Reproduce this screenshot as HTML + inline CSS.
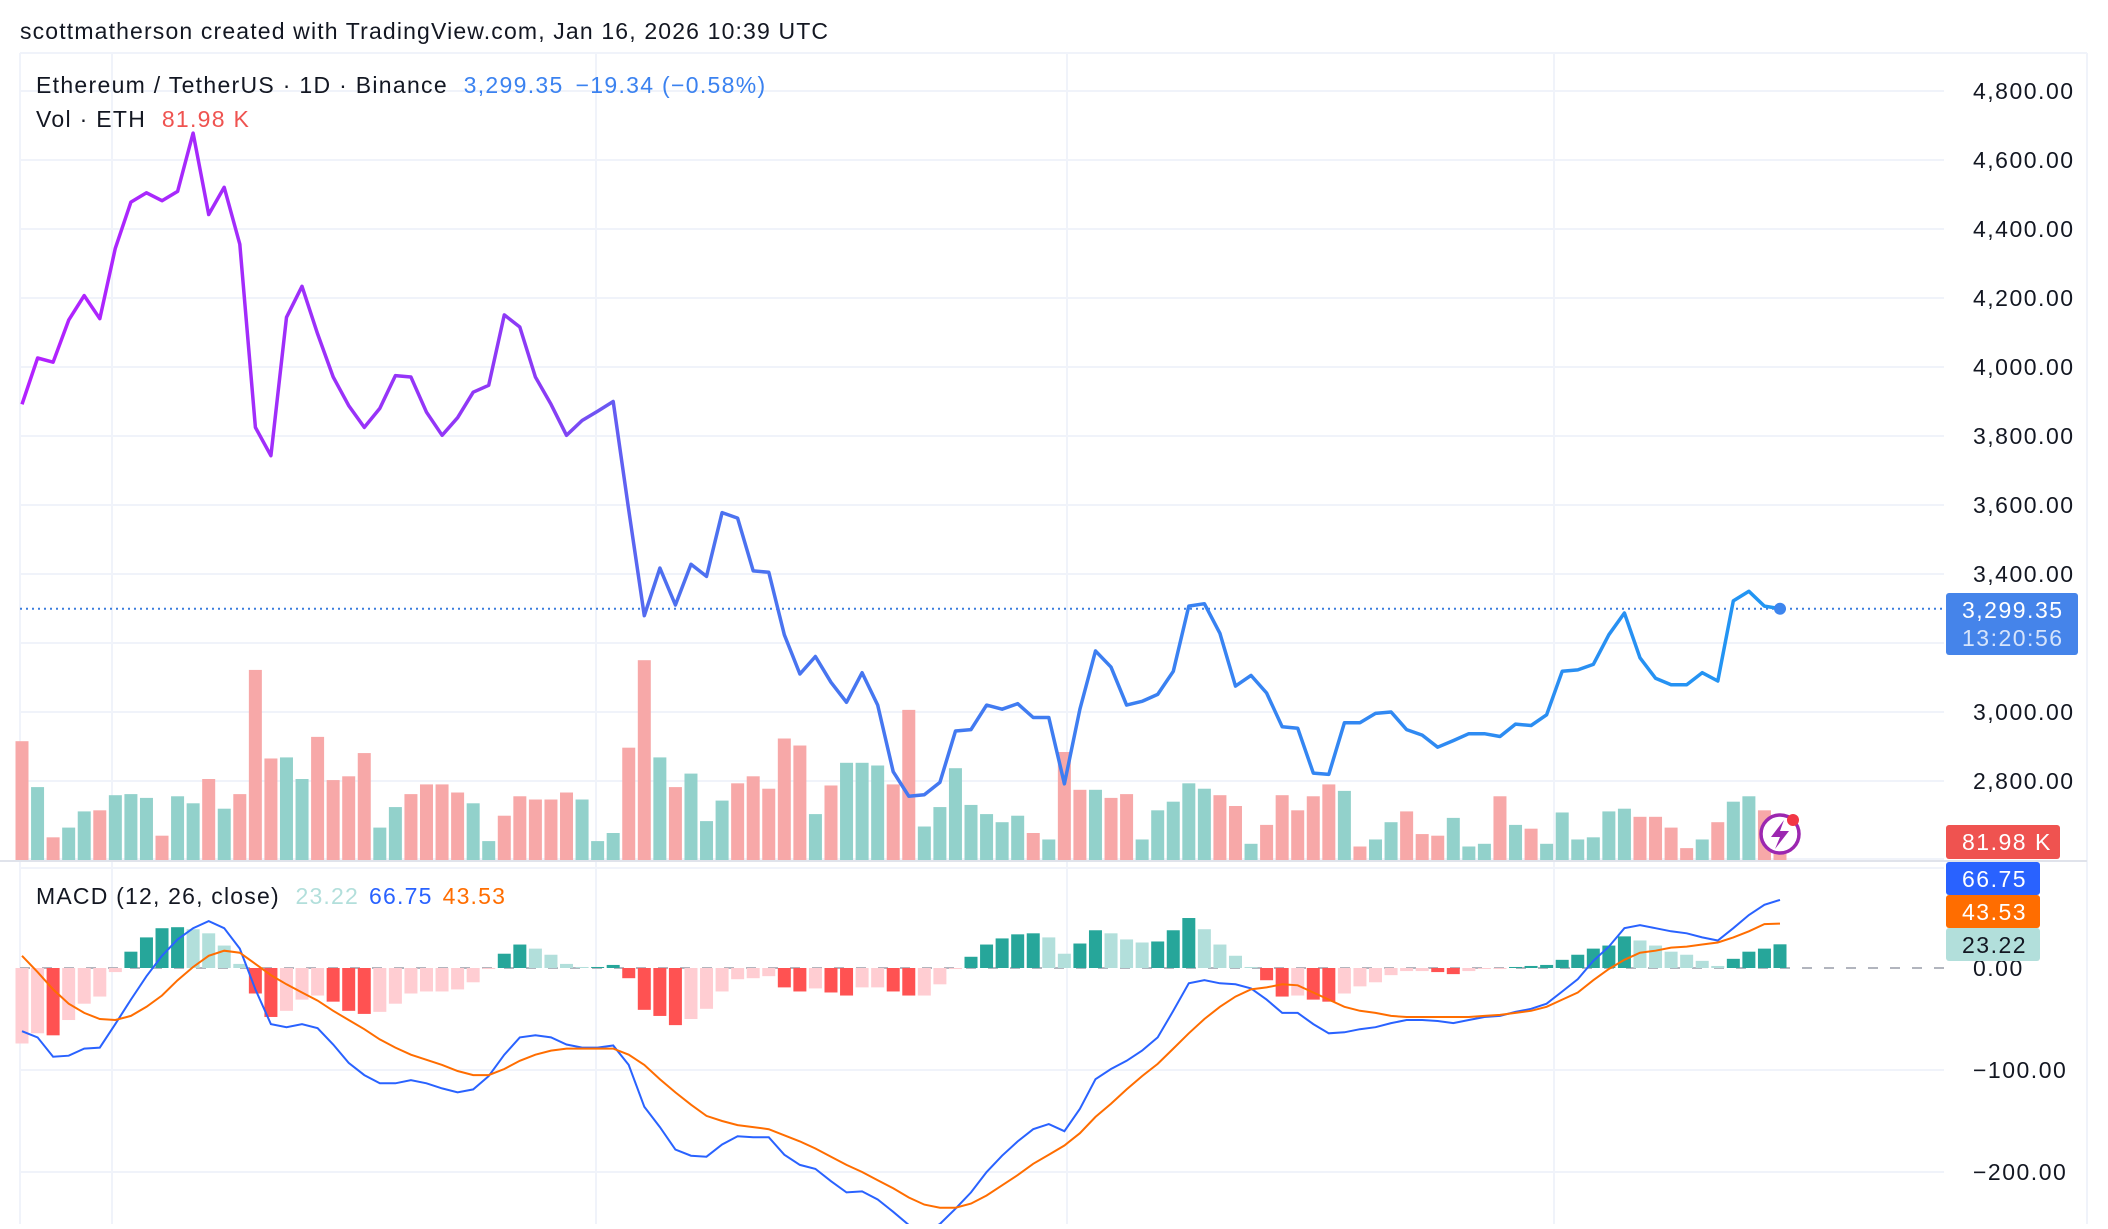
<!DOCTYPE html>
<html><head><meta charset="utf-8"><style>
body{margin:0;background:#fff;width:2108px;height:1224px;overflow:hidden;font-family:"Liberation Sans",sans-serif;}
svg text{font-family:"Liberation Sans",sans-serif;}
</style></head><body>
<svg id="c" width="2108" height="1224" xmlns="http://www.w3.org/2000/svg">
<defs>
<linearGradient id="pg" gradientUnits="userSpaceOnUse" x1="20" y1="0" x2="1780" y2="0">
<stop offset="0" stop-color="#b321ff"/><stop offset="0.3" stop-color="#8a3cf5"/><stop offset="0.36" stop-color="#4f6ff0"/><stop offset="1" stop-color="#2196f3"/>
</linearGradient>
</defs>
<text x="20" y="39" font-size="23" letter-spacing="1.15" fill="#131722">scottmatherson created with TradingView.com, Jan 16, 2026 10:39 UTC</text>
<g id="grid"></g>
<g id="vol"></g>
<g id="hist"></g>
<g id="lines"></g>
<g id="axis"></g>
<text x="36" y="93" font-size="23" letter-spacing="1.3" fill="#131722">Ethereum / TetherUS · 1D · Binance <tspan fill="#3b82f0" dx="8">3,299.35</tspan><tspan fill="#3b82f0" dx="12">−19.34 (−0.58%)</tspan></text>
<text x="36" y="127" font-size="23" letter-spacing="1.3" fill="#131722">Vol · ETH <tspan fill="#ef5350" dx="8">81.98 K</tspan></text>
<text x="36" y="904" font-size="23" letter-spacing="1.2" fill="#131722">MACD (12, 26, close) <tspan fill="#b2dfdb" dx="8">23.22</tspan><tspan fill="#2962ff" dx="10">66.75</tspan><tspan fill="#ff6d00" dx="10">43.53</tspan></text>
</svg>
<script>
const closes=[3892,4026,4014,4136,4207,4140,4344,4478,4505,4482,
4509,4678,4442,4521,4356,3825,3743,4144,4234,4096,
3971,3888,3825,3880,3975,3971,3869,3802,3853,3927,
3947,4151,4116,3971,3892,3802,3845,3872,3900,3586,
3279,3417,3310,3428,3393,3578,3562,3409,3405,3224,
3110,3161,3086,3028,3114,3020,2827,2756,2760,2796,
2945,2949,3020,3008,3024,2984,2984,2792,3008,3177,
3130,3020,3031,3051,3118,3307,3314,3228,3075,3106,
3055,2957,2953,2823,2819,2969,2969,2996,3000,2949,
2933,2898,2917,2937,2937,2929,2965,2961,2992,3118,
3122,3138,3224,3287,3157,3098,3079,3079,3114,3090,
3322,3350,3307,3299.35];
const volumes=[220,135,42,60,90,92,120,122,115,45,
118,105,150,95,122,352,188,190,150,228,
148,155,198,60,98,122,140,140,125,105,
35,82,118,112,112,125,112,35,50,208,
370,190,135,160,72,110,142,155,132,225,
212,85,138,180,180,175,140,278,62,98,
170,102,85,70,82,50,38,200,130,130,
115,122,38,92,108,142,132,120,100,30,
65,120,92,118,140,128,25,38,70,90,
48,45,78,25,30,118,65,58,30,88,
38,42,90,95,80,80,60,22,38,70,
108,118,92,82];
const volDir="rgrggrgggrggrgrrrggrrrrggrrrrggrrrrrgggrrgrgggrrrrrgrgggrrgggggggrgrrgrrgggggrrgrrrrrgrggrrrgggrgrggggggrrrrgrggrr";
const macd=[-62,-68,-87,-86,-79,-78,-55,-31,-8,12,28,39,46,39,19,-21,-55,-58,-55,-59,-75,-93,-105,-113,-113,-110,-113,-118,-122,-119,-106,-85,-68,-66,-68,-75,-78,-78,-76,-95,-136,-156,-178,-184,-185,-173,-165,-166,-166,-183,-193,-197,-209,-220,-219,-227,-239,-252,-259,-251,-236,-220,-200,-184,-170,-158,-153,-160,-138,-109,-99,-91,-81,-68,-42,-15,-12,-15,-16,-20,-31,-44,-44,-55,-64,-63,-60,-58,-54,-51,-51,-52,-54,-51,-48,-47,-43,-40,-35,-23,-11,7,21,39,42,39,36,34,30,27,39,52,62,66.75];
const signal=[12,-4,-21,-35,-44,-50,-51,-47,-38,-27,-12,1,12,17,15,4,-7,-16,-24,-32,-42,-51,-60,-70,-78,-85,-90,-95,-101,-105,-105,-99,-91,-85,-81,-79,-79,-79,-79,-85,-95,-109,-122,-134,-145,-150,-154,-156,-158,-164,-170,-177,-185,-193,-200,-208,-216,-225,-232,-235,-235,-231,-223,-213,-203,-192,-183,-174,-162,-146,-133,-119,-106,-94,-79,-64,-50,-38,-28,-21,-19,-16,-17,-24,-31,-38,-42,-44,-47,-48,-48,-48,-48,-48,-47,-46,-44,-42,-38,-31,-24,-12,-1,8,15,17,20,21,23,25,30,36,43,43.53];
const priceTicks=[4800,4600,4400,4200,4000,3800,3600,3400,3200,3000,2800];
const macdTicks=[0,-100,-200];

const NS="http://www.w3.org/2000/svg";
const N=closes.length;
const X0=22,X1=1780,PR=1944;
const xOf=i=>X0+i*(X1-X0)/(N-1);
const yP=p=>712-(p-3000)*0.345;
const yV=v=>860-v*0.54;
const yM=v=>968-v*1.02;
function mk(tag,attrs,parent){const e=document.createElementNS(NS,tag);for(const k in attrs)e.setAttribute(k,attrs[k]);parent.appendChild(e);return e;}
const grid=document.getElementById('grid'),vol=document.getElementById('vol'),hist=document.getElementById('hist'),lines=document.getElementById('lines'),axis=document.getElementById('axis');
mk('line',{x1:20,y1:53,x2:2087,y2:53,stroke:'#f0f3fa','stroke-width':2},grid);
mk('line',{x1:20,y1:53,x2:20,y2:1224,stroke:'#f0f3fa','stroke-width':2},grid);
mk('line',{x1:2087,y1:53,x2:2087,y2:1224,stroke:'#f0f3fa','stroke-width':2},grid);
[112,596,1067,1554].forEach(x=>mk('line',{x1:x,y1:53,x2:x,y2:1224,stroke:'#f0f3fa','stroke-width':2},grid));
priceTicks.forEach(t=>{
 const y=yP(t);
 mk('line',{x1:20,y1:y,x2:PR,y2:y,stroke:'#f0f3fa','stroke-width':2},grid);
 if(t!==3200){const tx=mk('text',{x:1973,y:y+8,'font-size':23,'letter-spacing':1.5,fill:'#131722'},axis);tx.textContent=t.toLocaleString('en-US',{minimumFractionDigits:2});
 
 }
});
mk('line',{x1:20,y1:859,x2:PR,y2:859,stroke:'#f0f3fa','stroke-width':2},grid);
mk('line',{x1:0,y1:861,x2:2087,y2:861,stroke:'#e0e3eb','stroke-width':2},grid);
mk('line',{x1:20,y1:868,x2:PR,y2:868,stroke:'#f0f3fa','stroke-width':2},grid);
macdTicks.forEach(t=>{
 const y=yM(t);
 if(t===0) mk('line',{x1:20,y1:y,x2:PR,y2:y,stroke:'#b2b5be','stroke-width':2,'stroke-dasharray':'10 12'},grid);
 else mk('line',{x1:20,y1:y,x2:PR,y2:y,stroke:'#f0f3fa','stroke-width':2},grid);
 const tx=mk('text',{x:1973,y:y+8,'font-size':23,'letter-spacing':1.5,fill:'#131722'},axis);
 tx.textContent=(t<0?'\u2212':'')+Math.abs(t).toFixed(2);
 
 
});
volumes.forEach((v,i)=>{
 const r=mk('rect',{x:xOf(i)-6.5,y:yV(v),width:13,height:860-yV(v),fill:volDir[i]==='g'?'#92d1cb':'#f7a8a8'},vol);
 
 
});
for(let i=0;i<N;i++){
 const h=macd[i]-signal[i],hp=i>0?macd[i-1]-signal[i-1]:h;
 let col;
 if(h>=0) col=h>=hp?'#26a69a':'#b2dfdb'; else col=h<hp?'#ff5252':'#ffcdd2';
 const y0=yM(0),y1=yM(h);
 const r=mk('rect',{x:xOf(i)-6.5,y:Math.min(y0,y1),width:13,height:Math.max(1,Math.abs(y1-y0)),fill:col},hist);
 
 
}
const path=(arr,f)=>arr.map((v,i)=>(i?'L':'M')+xOf(i).toFixed(1)+','+f(v).toFixed(1)).join('');
const ml=mk('path',{d:path(macd,yM),fill:'none',stroke:'#2962ff','stroke-width':2},lines);


const sl=mk('path',{d:path(signal,yM),fill:'none',stroke:'#ff6d00','stroke-width':2},lines);


const last=closes[N-1];
const dl=mk('line',{x1:20,y1:yP(last),x2:PR+10,y2:yP(last),stroke:'#3b7ddd','stroke-width':2,'stroke-dasharray':'2 4'},lines);


const pl=mk('path',{d:path(closes,yP),fill:'none',stroke:'url(#pg)','stroke-width':3.5,'stroke-linejoin':'round'},lines);


const dot=mk('circle',{cx:xOf(N-1),cy:yP(last),r:6,fill:'#3d85ee'},lines);


const ic=mk('g',{},lines);


mk('circle',{cx:1780,cy:834,r:19,fill:'#fff',stroke:'#9c27b0','stroke-width':3.5},ic);
mk('path',{d:'M1784,820 L1771,837 L1780,837 L1775,849 L1789,831 L1780,831 Z',fill:'#9c27b0'},ic);
mk('circle',{cx:1793,cy:820,r:6,fill:'#f23645'},ic);
function badge(x,y,w,h,fill,lines_,tc,name){
 const g=mk('g',{},axis);
 
 
 mk('rect',{x:x,y:y,width:w,height:h,rx:3,fill:fill},g);
 lines_.forEach((t,k)=>{const tx=mk('text',{x:x+16,y:y+25+k*28,'font-size':23,'letter-spacing':1.5,fill:k?'#d6e4fb':tc},g);tx.textContent=t;});
}
badge(1946,593,132,62,'#4584ea',['3,299.35','13:20:56'],'#fff','price-badge');
badge(1946,825,114,34,'#ef5350',['81.98 K'],'#fff','volume-badge');
badge(1946,862,94,33,'#2962ff',['66.75'],'#fff','macd-badge');
badge(1946,895,94,33,'#ff6d00',['43.53'],'#fff','signal-badge');
badge(1946,928,94,33,'#b2dfdb',['23.22'],'#131722','histogram-badge');
</script>
</body></html>
